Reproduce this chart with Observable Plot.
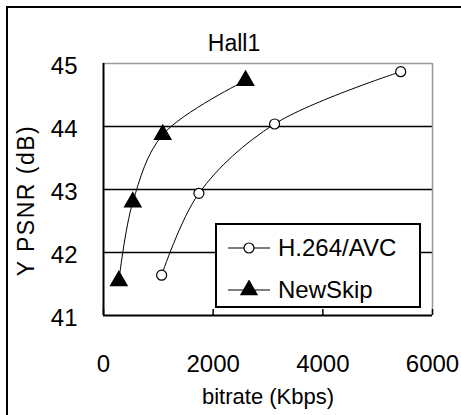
<!DOCTYPE html>
<html>
<head>
<meta charset="utf-8">
<script src="https://cdn.jsdelivr.net/npm/d3@7"></script>
<script src="https://cdn.jsdelivr.net/npm/@observablehq/plot@0.6"></script>
<style>
  html, body { margin: 0; padding: 0; background: #fff; }
  #wrap { position: relative; width: 461px; height: 415px; overflow: hidden; font-family: "Liberation Sans", Arial, sans-serif; }
  #frame { position: absolute; left: 6px; top: 6px; width: 470px; height: 420px; border-left: 2px solid #000; border-top: 2px solid #000; }
  #legend { position: absolute; left: 215px; top: 223px; width: 206px; height: 85px; background: #fff; border: 2px solid #000; box-sizing: border-box; }
  .row { position: absolute; left: 0; height: 30px; display: flex; align-items: center; font-size: 24px; color: #000; }
  .row svg { margin-left: 11px; margin-right: 8px; }
  .ylab { letter-spacing: 1.5px; }
</style>
</head>
<body>
<div id="wrap">
  <div id="frame"></div>
  <div id="chart"></div>
  <div id="legend"></div>
</div>
<script>
const title = "Hall1";
const xLabel = "bitrate (Kbps)";
const yLabel = "Y PSNR (dB)";
const seriesNames = ["H.264/AVC", "NewSkip"];
const avcBitrate = [1060, 1740, 3120, 5420];
const avcPsnr = [41.64, 42.94, 44.04, 44.87];
const skipBitrate = [280, 535, 1080, 2590];
const skipPsnr = [41.55, 42.80, 43.87, 44.73];
const xTicks = [0, 2000, 4000, 6000];
const yTicks = [41, 42, 43, 44, 45];
const gridY = [42, 43, 44];

const avc = avcBitrate.map((x, i) => ({x, y: avcPsnr[i]}));
const skip = skipBitrate.map((x, i) => ({x, y: skipPsnr[i]}));

const font = "Liberation Sans, Arial, sans-serif";

const chart = Plot.plot({
  width: 461,
  height: 415,
  marginLeft: 103,
  marginTop: 63,
  marginRight: 29,
  marginBottom: 100,
  style: {fontFamily: font, fontSize: "24px", color: "#000", background: "transparent"},
  x: {domain: [0, 6000]},
  y: {domain: [41, 45]},
  marks: [
    Plot.ruleY(gridY, {stroke: "#000", strokeWidth: 1.5}),
    Plot.ruleY([45], {stroke: "#999", strokeWidth: 1.5}),
    Plot.ruleX([6000], {stroke: "#999", strokeWidth: 1.5}),
    Plot.ruleX([0], {stroke: "#000", strokeWidth: 2}),
    Plot.ruleY([41], {stroke: "#000", strokeWidth: 2}),
    Plot.axisX({ticks: xTicks, tickSize: -6, tickPadding: 45, tickFormat: d => String(d), fontSize: 24, stroke: "#000", strokeWidth: 1.5, label: null}),
    Plot.axisY({ticks: yTicks, tickSize: 0, tickPadding: 26, dy: 3, tickFormat: d => String(d), fontSize: 24, label: null}),
    Plot.line(avc, {x: "x", y: "y", curve: "catmull-rom", stroke: "#000", strokeWidth: 1}),
    Plot.line(skip, {x: "x", y: "y", curve: "catmull-rom", stroke: "#000", strokeWidth: 1}),
    Plot.dot(avc, {x: "x", y: "y", r: 5, fill: "#fff", stroke: "#000", strokeWidth: 1.2}),
    Plot.dot(skip, {x: "x", y: "y", r: 6, symbol: "triangle", fill: "#000", stroke: "#000"}),
    Plot.text([title], {frameAnchor: "top", lineAnchor: "middle", dy: -20, dx: -34, text: d => d, fontSize: 23, fill: "#000"}),
    Plot.text([xLabel], {frameAnchor: "bottom", lineAnchor: "middle", dy: 81, text: d => d, fontSize: 22, fill: "#000"}),
    Plot.text([yLabel], {frameAnchor: "left", textAnchor: "middle", lineAnchor: "middle", dx: -77, dy: 11, rotate: -90, text: d => d, fontSize: 23, fill: "#000", className: "ylab"})
  ]
});
document.getElementById("chart").appendChild(chart);

// legend
const legend = document.getElementById("legend");
const rows = [
  {name: seriesNames[0], sym: "circle", top: 8},
  {name: seriesNames[1], sym: "triangle", top: 50}
];
for (const r of rows) {
  const div = document.createElement("div");
  div.className = "row";
  div.style.top = r.top + "px";
  const ns = "http://www.w3.org/2000/svg";
  const s = document.createElementNS(ns, "svg");
  s.setAttribute("width", 42); s.setAttribute("height", 20);
  const l = document.createElementNS(ns, "line");
  l.setAttribute("x1", 0); l.setAttribute("x2", 42); l.setAttribute("y1", 10); l.setAttribute("y2", 10);
  l.setAttribute("stroke", "#000"); l.setAttribute("stroke-width", 1.2);
  s.appendChild(l);
  const p = document.createElementNS(ns, "path");
  const sym = r.sym === "circle" ? d3.symbolCircle : d3.symbolTriangle;
  const size = r.sym === "circle" ? Math.PI * 25 : Math.PI * 36;
  p.setAttribute("d", d3.symbol(sym, size)());
  p.setAttribute("transform", "translate(21,10)");
  p.setAttribute("fill", r.sym === "circle" ? "#fff" : "#000");
  p.setAttribute("stroke", "#000"); p.setAttribute("stroke-width", 1.2);
  s.appendChild(p);
  div.appendChild(s);
  const t = document.createElement("span");
  t.textContent = r.name;
  div.appendChild(t);
  legend.appendChild(div);
}
</script>
</body>
</html>
